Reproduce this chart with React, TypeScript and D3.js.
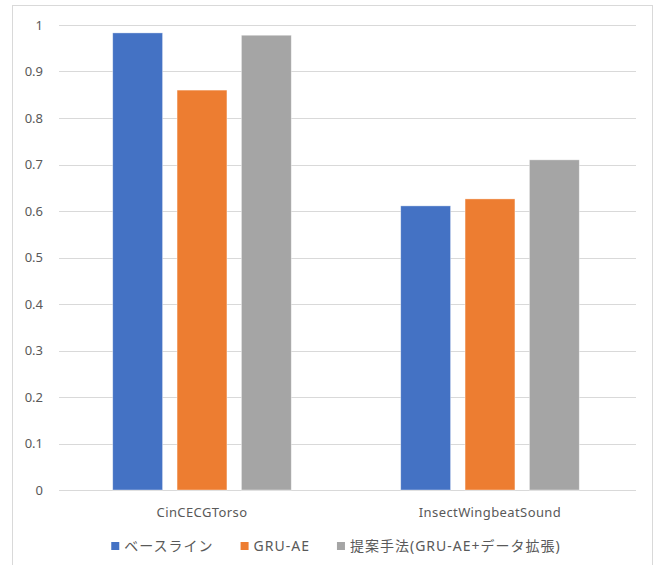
import * as d3 from 'd3'
import { useEffect, useRef } from 'react'

const categories = ['CinCECGTorso', 'InsectWingbeatSound']
const seriesNames = ['ベースライン', 'GRU-AE', '提案手法(GRU-AE+データ拡張)']
const baseline = [0.983, 0.611]
const gruAe = [0.860, 0.626]
const proposed = [0.978, 0.710]
const yTicks = [0, 0.1, 0.2, 0.3, 0.4, 0.5, 0.6, 0.7, 0.8, 0.9, 1]
const colors = ['#4472c4', '#ed7d31', '#a5a5a5']

export default function App() {
  const ref = useRef<SVGSVGElement>(null)

  useEffect(() => {
    if (!ref.current) return
    const width = 655
    const height = 565
    const left = 58
    const right = 634
    const top = 25
    const bottom = 490
    const font = '"Noto Sans", sans-serif'

    const svg = d3.select(ref.current)
      .attr('width', width)
      .attr('height', height)
    const g = svg.append('g')

    // outer chart border (bottom edge runs past the crop)
    g.append('rect')
      .attr('x', 12.5).attr('y', 5.5)
      .attr('width', 640).attr('height', 580)
      .attr('fill', '#fff')
      .attr('stroke', '#d9d9d9')

    const y = d3.scaleLinear().domain([0, 1]).range([bottom, top])
    const x0 = d3.scaleBand<string>()
      .domain(categories)
      .range([left, right])
      .paddingInner(0.38)
      .paddingOuter(0.19)
    const x1 = d3.scaleBand<number>()
      .domain([0, 1, 2])
      .range([0, x0.bandwidth()])
      .paddingInner(0.225)

    // grid lines
    g.selectAll('line.grid').data(yTicks).enter()
      .append('line')
      .attr('class', 'grid')
      .attr('x1', 59).attr('x2', 636)
      .attr('y1', d => Math.round(y(d)) + 0.5)
      .attr('y2', d => Math.round(y(d)) + 0.5)
      .attr('stroke', '#d9d9d9')
      .attr('stroke-width', 1)

    // y labels
    g.selectAll('text.ytick').data(yTicks).enter()
      .append('text')
      .attr('class', 'ytick')
      .attr('x', 43)
      .attr('y', d => y(d))
      .attr('dy', '0.35em')
      .attr('text-anchor', 'end')
      .attr('font-family', font)
      .attr('font-size', 13)
      .attr('fill', '#595959')
      .text(d => d3.format('')(d))

    const series = [baseline, gruAe, proposed]
    const cells: { cat: string, s: number, v: number }[] = []
    categories.forEach((cat, i) => {
      series.forEach((vals, s) => cells.push({ cat, s, v: vals[i] }))
    })

    g.selectAll('rect.bar').data(cells).enter()
      .append('rect')
      .attr('class', 'bar')
      .attr('x', d => (x0(d.cat) ?? 0) + (x1(d.s) ?? 0))
      .attr('y', d => y(d.v))
      .attr('width', x1.bandwidth())
      .attr('height', d => bottom - y(d.v))
      .attr('fill', d => colors[d.s])
      .attr('stroke', '#fff')
      .attr('stroke-opacity', 0.5)
      .attr('stroke-width', 0.75)

    // category labels
    g.selectAll('text.cat').data(categories).enter()
      .append('text')
      .attr('class', 'cat')
      .attr('x', d => (x0(d) ?? 0) + x0.bandwidth() / 2)
      .attr('y', 512)
      .attr('dy', '0.35em')
      .attr('text-anchor', 'middle')
      .attr('font-family', font)
      .attr('font-size', 13)
      .attr('letter-spacing', 0.4)
      .attr('fill', '#595959')
      .text(d => d)

    // legend
    const legend = g.append('g')
    const items = legend.selectAll('g.item').data(seriesNames).enter()
      .append('g').attr('class', 'item')
    items.append('rect')
      .attr('width', 8).attr('height', 8)
      .attr('y', -4)
      .attr('fill', (_d, i) => colors[i])
    items.append('text')
      .attr('x', 13)
      .attr('dy', '0.35em')
      .attr('font-family', '"Noto Sans", "Noto Sans CJK JP", sans-serif')
      .attr('font-size', 14)
      .attr('letter-spacing', 1)
      .attr('fill', '#595959')
      .text(d => d)

    let xpos = 0
    items.each(function () {
      const t = d3.select(this).select('text').node() as SVGTextElement
      d3.select(this).attr('transform', `translate(${xpos},0)`)
      xpos += 13 + t.getComputedTextLength() + 27
    })
    const total = xpos - 27
    legend.attr('transform', `translate(${336 - total / 2},546)`)

    return () => {
      g.remove()
    }
  }, [])

  return (
    <svg ref={ref} style={{ position: 'absolute', left: 0, top: 0 }} />
  )
}
